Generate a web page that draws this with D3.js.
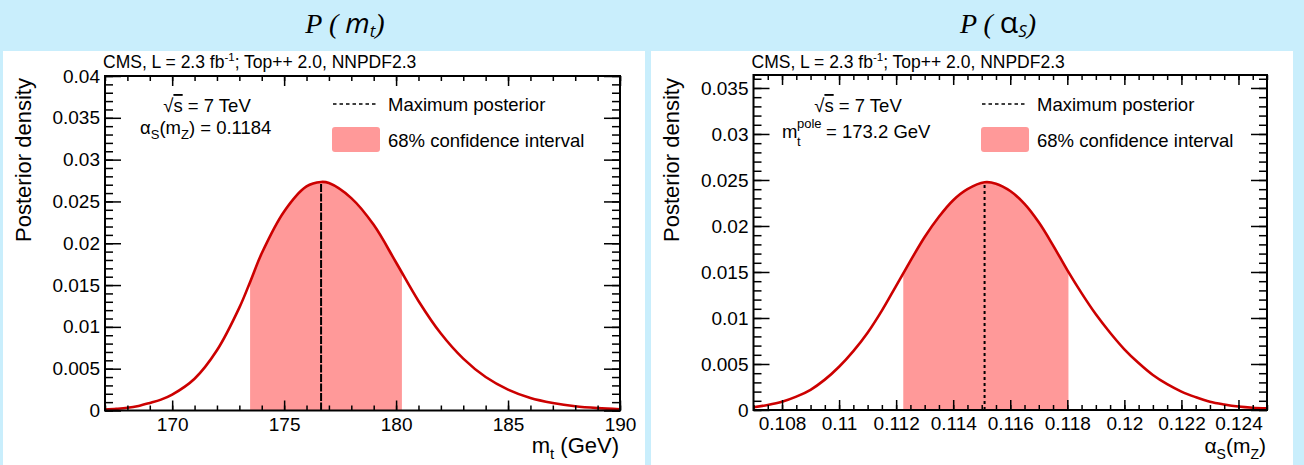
<!DOCTYPE html>
<html><head><meta charset="utf-8">
<script src="https://cdn.jsdelivr.net/npm/d3@7"></script>
<style>
body{margin:0;background:#c9eefc;}
svg{display:block;}
text{font-family:"Liberation Sans",Arial,Helvetica,sans-serif;fill:#000;}
</style>
</head><body>
<svg id="c" width="1304" height="465"></svg>
<script>
// ---------- data ----------
const mtValues  = [167, 167.5, 168, 168.5, 169, 169.5, 170, 171, 172, 173, 173.5, 174, 175, 176, 176.65, 177, 178, 179, 180, 181, 182, 183, 184, 185, 186, 187, 188, 189, 190];
const mtDensity = [0.00012, 0.0002, 0.00032, 0.00055, 0.0009, 0.0013, 0.0019, 0.0038, 0.0072, 0.0123, 0.0155, 0.0188, 0.0238, 0.0268, 0.02733, 0.0272, 0.0254, 0.0222, 0.0177, 0.0131, 0.0092, 0.0062, 0.0040, 0.0025, 0.0015, 0.0009, 0.0005, 0.00028, 0.00015];
const mtMaxPosterior = 176.65;
const mtInterval = [173.48, 180.26];
const mtXTicks = [170, 175, 180, 185, 190];
const mtYTicks = [0, 0.005, 0.01, 0.015, 0.02, 0.025, 0.03, 0.035, 0.04];

const asValues  = [0.107, 0.1075, 0.108, 0.1085, 0.109, 0.1095, 0.11, 0.1105, 0.111, 0.1115, 0.112, 0.1125, 0.113, 0.1135, 0.114, 0.1145, 0.1151, 0.1155, 0.116, 0.1165, 0.117, 0.1175, 0.118, 0.1185, 0.119, 0.1195, 0.12, 0.1205, 0.121, 0.1215, 0.122, 0.1225, 0.123, 0.1235, 0.124, 0.1245, 0.125];
const asDensity = [0.0003, 0.00055, 0.0009, 0.00145, 0.0022, 0.0033, 0.0047, 0.0064, 0.0084, 0.0108, 0.0135, 0.0162, 0.0188, 0.0210, 0.0228, 0.0240, 0.02475, 0.0246, 0.0238, 0.0224, 0.0204, 0.0179, 0.0152, 0.0127, 0.0104, 0.0084, 0.0066, 0.0051, 0.0038, 0.0028, 0.0020, 0.0014, 0.0009, 0.0006, 0.00038, 0.00025, 0.00018];
const asMaxPosterior = 0.1151;
const asInterval = [0.11225, 0.11804];
const asXTicks = [0.108, 0.11, 0.112, 0.114, 0.116, 0.118, 0.12, 0.122, 0.124];
const asYTicks = [0, 0.005, 0.01, 0.015, 0.02, 0.025, 0.03, 0.035];

const legendLabels = ["Maximum posterior", "68% confidence interval"];
const yTitle = "Posterior density";

// ---------- drawing ----------
const svg = d3.select("#c");
const RED = "#cc0000", BAND = "#ff9999";

svg.append("rect").attr("x",3).attr("y",51).attr("width",642).attr("height",414).attr("fill","#fff");
svg.append("rect").attr("x",651).attr("y",51).attr("width",642).attr("height",414).attr("fill","#fff");

function tick(v){ return +v.toFixed(5); }

function drawPanel(cfg){
  const g = svg.append("g");
  const x = d3.scaleLinear().domain(cfg.xDomain).range([cfg.fx0, cfg.fx1]);
  const y = d3.scaleLinear().domain([0, cfg.yMax]).range([cfg.fy1, cfg.fy0]);
  const pts = cfg.values.map((v,i)=>({v, d: cfg.density[i]}));
  const crv = d3.curveCatmullRom.alpha(0.5);

  const clipId = "clip" + cfg.id;
  g.append("clipPath").attr("id", clipId).append("rect")
    .attr("x", x(cfg.interval[0])).attr("y", cfg.fy0)
    .attr("width", x(cfg.interval[1]) - x(cfg.interval[0])).attr("height", cfg.fy1 - cfg.fy0);

  const area = d3.area().x(d=>x(d.v)).y0(y(0)).y1(d=>y(d.d)).curve(crv);
  const line = d3.line().x(d=>x(d.v)).y(d=>y(d.d)).curve(crv);

  g.append("path").datum(pts).attr("d", area).attr("fill", BAND).attr("clip-path", `url(#${clipId})`);

  const peak = d3.max(cfg.density);
  g.append("line").attr("x1", x(cfg.maxPost)).attr("x2", x(cfg.maxPost))
    .attr("y1", y(0)).attr("y2", y(peak))
    .attr("stroke","#000").attr("stroke-width", cfg.dashW).attr("stroke-dasharray", cfg.dash);

  g.append("path").datum(pts).attr("d", line).attr("fill","none").attr("stroke", RED).attr("stroke-width", 2.6);

  const fmt = d3.format("~g");
  function styleAxis(sel, fs){
    sel.select(".domain").remove();
    sel.selectAll("line").attr("stroke","#000").attr("stroke-width",1.5);
    sel.attr("font-family", null).attr("font-size", null);
    sel.selectAll("text").attr("font-size", fs + "px").attr("fill","#000");
  }
  const xMinor = cfg.xMinor, yMinor = cfg.yMinor;
  g.append("g").attr("transform",`translate(0,${cfg.fy1})`)
    .call(d3.axisBottom(x).tickValues(xMinor).tickSize(-5).tickFormat("")).call(s=>styleAxis(s,19));
  g.append("g").attr("transform",`translate(0,${cfg.fy1})`)
    .call(d3.axisBottom(x).tickValues(cfg.xTicks).tickSize(-10).tickPadding(7).tickFormat(fmt)).call(s=>styleAxis(s,19));
  g.append("g").attr("transform",`translate(0,${cfg.fy0})`)
    .call(d3.axisTop(x).tickValues(xMinor).tickSize(-5).tickFormat("")).call(s=>styleAxis(s,19));
  g.append("g").attr("transform",`translate(0,${cfg.fy0})`)
    .call(d3.axisTop(x).tickValues(cfg.xTicks).tickSize(-10).tickFormat("")).call(s=>styleAxis(s,19));
  g.append("g").attr("transform",`translate(${cfg.fx0},0)`)
    .call(d3.axisLeft(y).tickValues(yMinor).tickSize(-8).tickFormat("")).call(s=>styleAxis(s,19));
  g.append("g").attr("transform",`translate(${cfg.fx0},0)`)
    .call(d3.axisLeft(y).tickValues(cfg.yTicks).tickSize(-16).tickPadding(5).tickFormat(fmt)).call(s=>styleAxis(s,19));
  g.append("g").attr("transform",`translate(${cfg.fx1},0)`)
    .call(d3.axisRight(y).tickValues(yMinor).tickSize(-8).tickFormat("")).call(s=>styleAxis(s,19));
  g.append("g").attr("transform",`translate(${cfg.fx1},0)`)
    .call(d3.axisRight(y).tickValues(cfg.yTicks).tickSize(-16).tickFormat("")).call(s=>styleAxis(s,19));

  g.append("rect").attr("x",cfg.fx0).attr("y",cfg.fy0).attr("width",cfg.fx1-cfg.fx0).attr("height",cfg.fy1-cfg.fy0)
    .attr("fill","none").attr("stroke","#000").attr("stroke-width",2);

  const h = g.append("text").attr("x", cfg.fx0 - 2).attr("y", 68).attr("font-size","17.5px");
  h.append("tspan").text("CMS, L = 2.3 fb");
  h.append("tspan").attr("dy",-7).attr("font-size","11.5px").text("-1");
  h.append("tspan").attr("dy",7).text("; Top++ 2.0, NNPDF2.3");

  g.append("text").attr("transform",`translate(${cfg.yTitleX},160) rotate(-90)`)
    .attr("text-anchor","middle").attr("font-size","22px").text(yTitle);

  const lx = cfg.legX;
  g.append("line").attr("x1",lx).attr("x2",lx+45).attr("y1",104).attr("y2",104)
    .attr("stroke","#000").attr("stroke-width",1.6).attr("stroke-dasharray","3.5,3");
  g.append("text").attr("x",lx+55).attr("y",110.5).attr("font-size","18.5px").text(legendLabels[0]);
  g.append("rect").attr("x",lx-1).attr("y",127).attr("width",48).attr("height",25).attr("rx",3).attr("fill",BAND);
  g.append("text").attr("x",lx+55).attr("y",146.5).attr("font-size","18.5px").text(legendLabels[1]);

  const s = g.append("text").attr("x",cfg.sqrtX).attr("y",112).attr("text-anchor","middle").attr("font-size","18.5px");
  s.append("tspan").text("\u221A");
  s.append("tspan").attr("text-decoration","overline").text("s");
  s.append("tspan").text(" = 7 TeV");
  return {g, x, y};
}

drawPanel({id:"L", xDomain:[167,190], fx0:105, fx1:620, fy0:76, fy1:410.5, yMax:0.04,
  values: mtValues, density: mtDensity, interval: mtInterval, maxPost: mtMaxPosterior,
  xTicks: mtXTicks, yTicks: mtYTicks,
  xMinor: d3.range(167, 191, 1),
  yMinor: d3.range(0, 41).map(i=>tick(i*0.001)),
  dash:"8,1.5", dashW:2, yTitleX:31, legX:333, sqrtX:207});

drawPanel({id:"R", xDomain:[0.107,0.125], fx0:753.5, fx1:1267, fy0:75, fy1:410, yMax:0.03641,
  values: asValues, density: asDensity, interval: asInterval, maxPost: asMaxPosterior,
  xTicks: asXTicks, yTicks: asYTicks,
  xMinor: d3.range(0, 37).map(i=>tick(0.107 + i*0.0005)),
  yMinor: d3.range(0, 37).map(i=>tick(i*0.001)),
  dash:"3,3", dashW:2, yTitleX:679, legX:982, sqrtX:858});

const a1 = svg.append("text").attr("x",140).attr("y",134).attr("font-size","18.5px");
a1.append("tspan").text("\u03B1");
a1.append("tspan").attr("dy",5).attr("font-size","13px").text("S");
a1.append("tspan").attr("dy",-5).text("(m");
a1.append("tspan").attr("dy",5).attr("font-size","13px").text("Z");
a1.append("tspan").attr("dy",-5).text(") = 0.1184");

svg.append("text").attr("x",782).attr("y",138).attr("font-size","18.5px").text("m");
svg.append("text").attr("x",797).attr("y",128).attr("font-size","13px").text("pole");
svg.append("text").attr("x",797).attr("y",146).attr("font-size","13px").text("t");
svg.append("text").attr("x",826).attr("y",138).attr("font-size","18.5px").text("= 173.2 GeV");

const t1 = svg.append("text").attr("x",619).attr("y",453).attr("text-anchor","end").attr("font-size","22px");
t1.append("tspan").text("m");
t1.append("tspan").attr("dy",6).attr("font-size","15px").text("t");
t1.append("tspan").attr("dy",-6).text(" (GeV)");

const t2 = svg.append("text").attr("x",1266).attr("y",453).attr("text-anchor","end").attr("font-size","21px");
t2.append("tspan").text("\u03B1");
t2.append("tspan").attr("dy",6).attr("font-size","14px").text("S");
t2.append("tspan").attr("dy",-6).text("(m");
t2.append("tspan").attr("dy",6).attr("font-size","14px").text("Z");
t2.append("tspan").attr("dy",-6).text(")");

function title(xc, parts){
  const t = svg.append("text").attr("x",xc).attr("y",33).attr("text-anchor","middle").attr("font-size","28px");
  parts.forEach(p=>{
    const ts = t.append("tspan").text(p.t).attr("font-family",p.f).attr("font-style",p.s||"italic");
    if(p.fs) ts.attr("font-size",p.fs);
    if(p.dy) ts.attr("dy",p.dy);
  });
}
const SERIF = "'Liberation Serif','DejaVu Serif',serif";
const SANS = "'Open Sans','DejaVu Sans',sans-serif";
title(345, [{t:"P",f:SERIF},{t:" ( ",f:SERIF},{t:"m",f:SANS},{t:"t",f:SANS,fs:"17px",dy:4},{t:")",f:SERIF,dy:-4}]);
title(998, [{t:"P",f:SERIF},{t:" ( ",f:SERIF},{t:"\u03B1",f:SANS,s:"normal",fs:"30px"},{t:"S",f:SANS,fs:"17px",dy:4},{t:")",f:SERIF,dy:-4}]);
</script>
</body></html>
